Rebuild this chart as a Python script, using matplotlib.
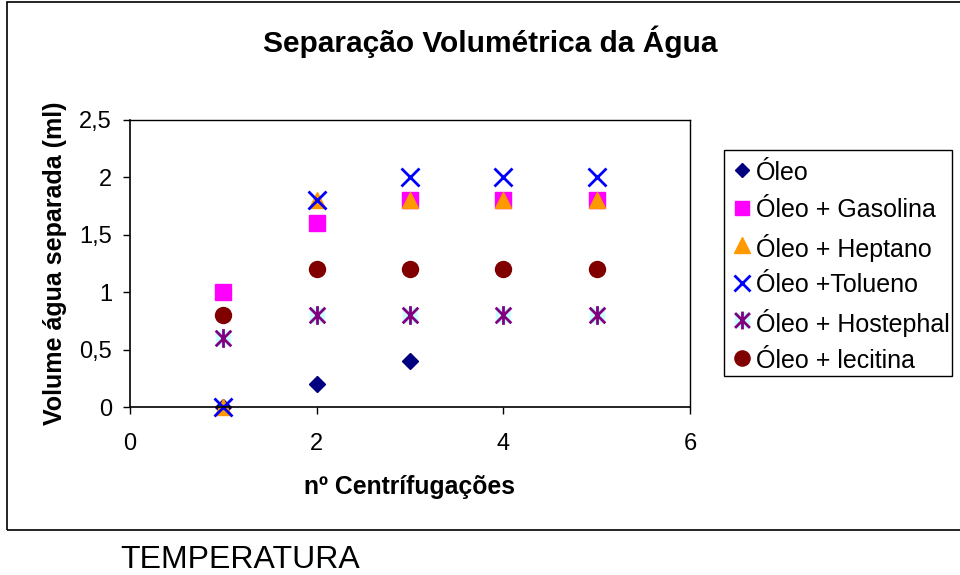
import matplotlib
matplotlib.use("Agg")
import matplotlib.pyplot as plt
from matplotlib.patches import Rectangle
from matplotlib.lines import Line2D
from matplotlib.path import Path
from matplotlib.ticker import FuncFormatter

plt.rcParams['font.family'] = ['Liberation Sans', 'DejaVu Sans']

# numero de centrifugacoes e volume de agua separada (ml)
oleo_x = [1, 2, 3]
oleo_y = [0, 0.2, 0.4]
gasolina_x = [1, 2, 3, 4, 5]
gasolina_y = [1.0, 1.6, 1.8, 1.8, 1.8]
heptano_x = [1, 2, 3, 4, 5]
heptano_y = [0, 1.8, 1.8, 1.8, 1.8]
tolueno_x = [1, 2, 3, 4, 5]
tolueno_y = [0, 1.8, 2.0, 2.0, 2.0]
hostephal_x = [1, 2, 3, 4, 5]
hostephal_y = [0.6, 0.8, 0.8, 0.8, 0.8]
lecitina_x = [1, 2, 3, 4, 5]
lecitina_y = [0.8, 1.2, 1.2, 1.2, 1.2]

labels = ['Óleo', 'Óleo + Gasolina', 'Óleo + Heptano', 'Óleo +Tolueno',
          'Óleo + Hostephal', 'Óleo + lecitina']

# asterisco estilo Excel: X com traco vertical
M, L = Path.MOVETO, Path.LINETO
asterisk = Path([(-1, -1), (1, 1), (-1, 1), (1, -1), (0, -1.2), (0, 1.2)],
                [M, L, M, L, M, L])

styles = [
    dict(marker='D', ms=8, color='#000080', mec='#000080'),
    dict(marker='s', ms=11, color='#FF00FF', mec='#FF00FF'),
    dict(marker='^', ms=12, color='#FF9900', mec='#FF9900'),
    dict(marker='x', ms=12.5, mew=2, color='#0000FF'),
    dict(marker=asterisk, ms=13.5, mew=2, color='#800080'),
    dict(marker='o', ms=11.5, color='#800000', mec='#800000'),
]
fundo_ast = dict(marker='s', ms=10.5, color='#CCFFFF', mec='#CCFFFF')

fig = plt.figure(figsize=(9.6, 5.75), dpi=100)
fig.patch.set_facecolor('white')

# moldura do grafico
fig.add_artist(Rectangle((7/960, 1-530/575), 1.0, 528/575, transform=fig.transFigure,
                         fill=False, edgecolor='black', linewidth=1.2))

ax = fig.add_axes([130/960, 1-407/575, 560/960, 287/575])

series = [(oleo_x, oleo_y), (gasolina_x, gasolina_y), (heptano_x, heptano_y),
          (tolueno_x, tolueno_y), (hostephal_x, hostephal_y), (lecitina_x, lecitina_y)]
for i, (xs, ys) in enumerate(series):
    if i == 4:
        ax.plot(xs, ys, ls='none', clip_on=False, **fundo_ast)
    ax.plot(xs, ys, ls='none', clip_on=False, **styles[i])

ax.set_xlim(0, 6)
ax.set_ylim(0, 2.5)
ax.set_xticks([0, 2, 4, 6])
ax.set_yticks([0, 0.5, 1, 1.5, 2, 2.5])
ax.yaxis.set_major_formatter(FuncFormatter(lambda v, p: ('%g' % v).replace('.', ',')))
ax.tick_params(direction='out', length=5, width=1, labelsize=17)
ax.tick_params(axis='x', pad=14)
ax.tick_params(axis='y', pad=8)
for s in ax.spines.values():
    s.set_linewidth(1.2)
ax.spines['top'].set_linewidth(1)
ax.spines['right'].set_linewidth(1)

ax.set_xlabel('nº Centrífugações', fontsize=17.8, fontweight='bold', labelpad=14)
ax.set_ylabel('Volume água separada (ml)', fontsize=18, fontweight='bold', labelpad=9)

fig.text(490/960, 1-42/575, 'Separação Volumétrica da Água', ha='center', va='center',
         fontsize=21.5, fontweight='bold')

# legenda desenhada a mao para manter o espacamento regular
fig.add_artist(Rectangle((724/960, 1-376/575), 228/960, 226/575, transform=fig.transFigure,
                         fill=False, edgecolor='black', linewidth=1))
for i, lab in enumerate(labels):
    yc = 1 - (170 + i * 37.6) / 575
    if i == 4:
        fig.add_artist(Line2D([742/960], [yc], transform=fig.transFigure, ls='none', **fundo_ast))
    st = dict(styles[i])
    st['ms'] = st['ms'] * 0.95
    fig.add_artist(Line2D([742/960], [yc], transform=fig.transFigure, ls='none', **st))
    fig.text(756/960, yc, lab, ha='left', va='center_baseline', fontsize=18)

fig.text(120/960, 1-560/575, 'TEMPERATURA', ha='left', va='center', fontsize=23)

fig.savefig('out.png', dpi=100)
